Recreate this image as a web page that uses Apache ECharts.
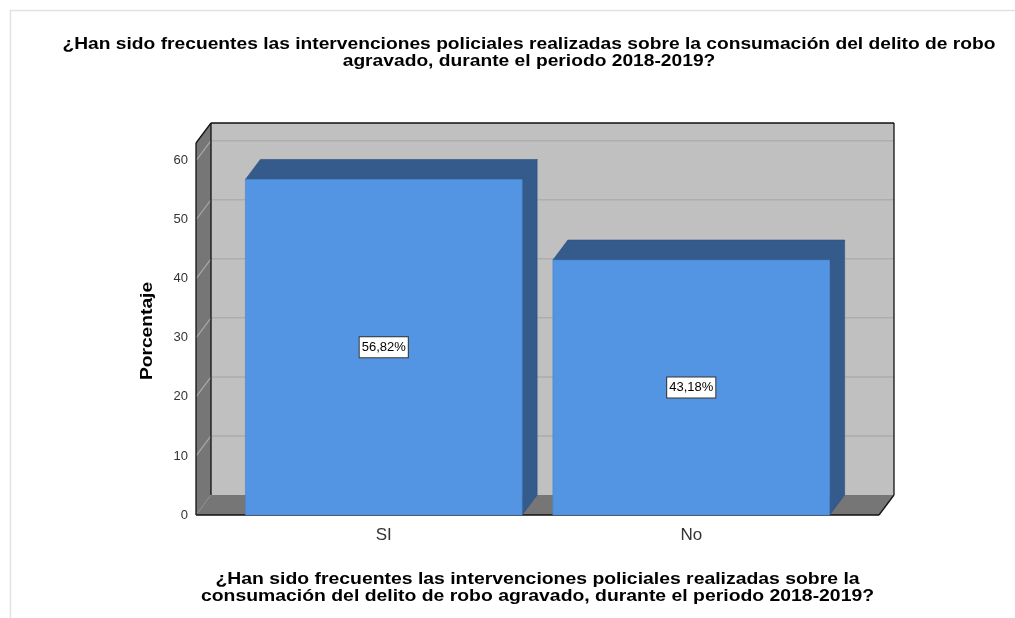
<!DOCTYPE html>
<html>
<head>
<meta charset="utf-8">
<script src="https://cdn.jsdelivr.net/npm/echarts@6/dist/echarts.min.js"></script>
<style>
  html, body { margin: 0; padding: 0; background: #fff; }
  #chart { width: 1015px; height: 618px; }
</style>
</head>
<body>
<div id="chart"></div>
<script>
// Survey answers and their share of respondents (%)
const categories = ['SI', 'No'];
const percentages = [56.82, 43.18];
const yTickStep = 10;
const yMax = 63;

const titleLines = [
  '¿Han sido frecuentes las intervenciones policiales realizadas sobre la consumación del delito de robo',
  'agravado, durante el periodo 2018-2019?'
];
const xAxisTitleLines = [
  '¿Han sido frecuentes las intervenciones policiales realizadas sobre la',
  'consumación del delito de robo agravado, durante el periodo 2018-2019?'
];
const yAxisTitle = 'Porcentaje';

// 3D look: depth offset of the back plane and side padding of the box
const DX = 15, DY = -20, PAD = 34;
const FONT = '"Liberation Sans", Arial, sans-serif';

const chart = echarts.init(document.getElementById('chart'), null, { renderer: 'canvas' });

function fmt(v) { return v.toFixed(2).replace('.', ',') + '%'; }

// Back wall, left wall, floor and their grid lines
function renderBox(params, api) {
  const cs = params.coordSys;
  const L = cs.x - PAD, R = cs.x + cs.width + PAD;
  const T = cs.y, B = cs.y + cs.height;
  const kids = [];
  kids.push({ type: 'rect', shape: { x: L + DX, y: T + DY, width: R - L, height: B - T },
    style: { fill: '#c0c0c0' } });
  kids.push({ type: 'polygon', shape: { points: [[L, T], [L + DX, T + DY], [L + DX, B + DY], [L, B]] },
    style: { fill: '#767676' } });
  kids.push({ type: 'polygon', shape: { points: [[L, B], [L + DX, B + DY], [R + DX, B + DY], [R, B]] },
    style: { fill: '#767676' } });
  for (let v = yTickStep; v < yMax; v += yTickStep) {
    const y = api.coord([0, v])[1];
    kids.push({ type: 'line', shape: { x1: L + DX, y1: y + DY, x2: R + DX, y2: y + DY },
      style: { stroke: '#adadad', lineWidth: 1.5 } });
    kids.push({ type: 'line', shape: { x1: L, y1: y, x2: L + DX, y2: y + DY },
      style: { stroke: '#a8a8a8', lineWidth: 1.2 } });
  }
  const edge = { stroke: '#111', lineWidth: 1.3 };
  const seg = (x1, y1, x2, y2) => ({ type: 'line', shape: { x1, y1, x2, y2 }, style: edge });
  kids.push(seg(L, T, L, B));
  kids.push(seg(L, T, L + DX, T + DY));
  kids.push(seg(L + DX, T + DY, R + DX, T + DY));
  kids.push(seg(L + DX, T + DY, L + DX, B + DY));
  kids.push(seg(R + DX, T + DY, R + DX, B + DY));
  kids.push(seg(R, B, R + DX, B + DY));
  kids.push(seg(L, B, R, B));
  return { type: 'group', children: kids };
}

// Extruded bars with a boxed value label in the middle of the front face
function renderBar(params, api) {
  const i = api.value(0), v = api.value(1);
  const base = api.coord([i, 0]);
  const top = api.coord([i, v]);
  const w = api.size([1, 0])[0] * 0.9;
  const x0 = base[0] - w / 2, x1 = base[0] + w / 2;
  const yb = base[1], yt = top[1];
  return {
    type: 'group',
    children: [
      { type: 'polygon', shape: { points: [[x1, yt], [x1 + DX, yt + DY], [x1 + DX, yb + DY], [x1, yb]] },
        style: { fill: '#345b8c', stroke: '#2e5280', lineWidth: 0.6 } },
      { type: 'polygon', shape: { points: [[x0, yt], [x0 + DX, yt + DY], [x1 + DX, yt + DY], [x1, yt]] },
        style: { fill: '#345b8c', stroke: '#2e5280', lineWidth: 0.6 } },
      { type: 'rect', shape: { x: x0, y: yt, width: w, height: yb - yt },
        style: { fill: '#5394e3', stroke: '#4a86cf', lineWidth: 0.6 } },
      { type: 'text', x: base[0], y: (yb + yt) / 2,
        style: { text: fmt(v), fill: '#000', fontSize: 13, fontFamily: FONT,
          align: 'center', verticalAlign: 'middle', textAlign: 'center', textVerticalAlign: 'middle',
          backgroundColor: '#fff', borderColor: '#333', borderWidth: 1, padding: [4, 2, 3, 2] } }
    ]
  };
}

chart.setOption({
  animation: false,
  backgroundColor: '#fff',
  graphic: [
    { type: 'line', shape: { x1: 10, y1: 10.5, x2: 1015, y2: 10.5 }, style: { stroke: '#e2e2e2', lineWidth: 1.5 } },
    { type: 'line', shape: { x1: 10.5, y1: 10, x2: 10.5, y2: 618 }, style: { stroke: '#e2e2e2', lineWidth: 1.5 } },
    // chart title
    { type: 'text', x: 529, y: 53, scaleX: 1.13,
      style: { text: titleLines.join('\n'), font: 'bold 17px ' + FONT, fill: '#000',
        textAlign: 'center', textVerticalAlign: 'middle', align: 'center', verticalAlign: 'middle', lineHeight: 17 } },
    // category axis title
    { type: 'text', x: 537.5, y: 587.5, scaleX: 1.14,
      style: { text: xAxisTitleLines.join('\n'), font: 'bold 17px ' + FONT, fill: '#000',
        textAlign: 'center', textVerticalAlign: 'middle', align: 'center', verticalAlign: 'middle', lineHeight: 17 } },
    // value axis title
    { type: 'text', x: 148, y: 331, rotation: Math.PI / 2, scaleX: 1.2,
      style: { text: yAxisTitle, font: 'bold 16px ' + FONT, fill: '#000',
        textAlign: 'center', textVerticalAlign: 'middle', align: 'center', verticalAlign: 'middle' } }
  ],
  grid: { left: 230, right: 170, top: 143, bottom: 103 },
  xAxis: {
    type: 'category',
    data: categories,
    axisLine: { show: false },
    axisTick: { show: false },
    axisLabel: { color: '#333', fontSize: 17, fontFamily: FONT, margin: 12 }
  },
  yAxis: {
    type: 'value',
    min: 0, max: yMax, interval: yTickStep,
    offset: PAD,
    axisLine: { show: false },
    axisTick: { show: false },
    splitLine: { show: false },
    axisLabel: { color: '#333', fontSize: 13, fontFamily: FONT, margin: 8, showMaxLabel: false,
      formatter: v => (v % yTickStep === 0 ? String(v) : '') }
  },
  series: [
    { type: 'custom', silent: true, z: 1, renderItem: renderBox, data: [[0, 0]] },
    { type: 'custom', z: 2, renderItem: renderBar,
      data: percentages.map((p, i) => [i, p]) }
  ]
});
</script>
</body>
</html>
